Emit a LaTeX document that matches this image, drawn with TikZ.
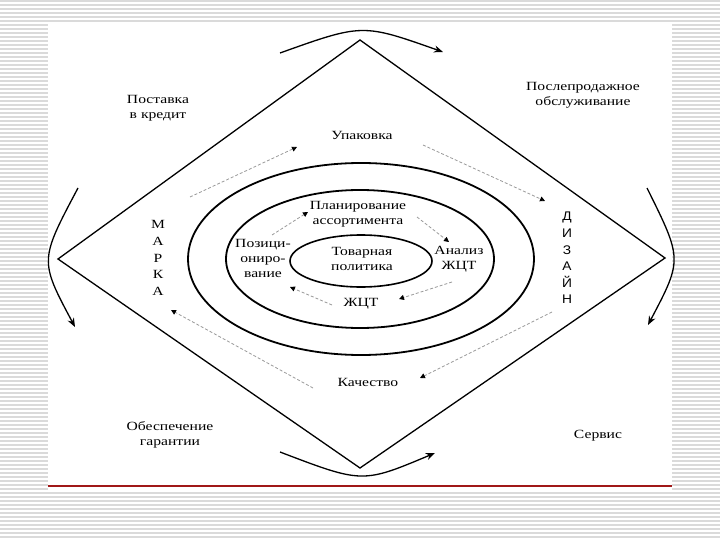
\documentclass[tikz,border=0pt]{standalone}
\usepackage{fontspec}
\setmainfont[FakeStretch=1.25]{Liberation Serif}
\newfontfamily\dzfont[FakeStretch=1.1]{Liberation Sans}
\usetikzlibrary{arrows.meta}
\definecolor{dotgray}{HTML}{9A9A9A}
\definecolor{stripe}{HTML}{DADADA}
\definecolor{slidered}{HTML}{A01818}

\begin{document}
\begin{tikzpicture}[x=1pt,y=-1pt,>=Latex,every node/.style={font=\fontsize{12.5}{15}\selectfont,align=center,inner sep=1pt},
 ring/.style={draw,line width=1.8pt},turn/.style={->,line width=1.3pt,>={Stealth[length=9pt,width=7pt]}},
 hint/.style={-{Triangle[length=5pt,width=5pt,color=black]},draw=dotgray,densely dashed,line width=.8pt},
 letters/.style={font=\fontsize{12.5}{16.8}\selectfont}]
\useasboundingbox (0,0) rectangle (720,540);
% slide background
\foreach \y in {1,5,...,539} \draw[stripe,line width=1.5pt] (0,\y)--(720,\y);
\fill[white] (48,22) rectangle (672,492);
\draw[slidered,line width=1.2pt] (48,486)--(672,486);
% diamond
\coordinate (t) at (360,40);\coordinate (l) at (58,259);\coordinate (r) at (665,258);\coordinate (b) at (360,468);
\draw[line width=1.3pt] (t)--(r)--(b)--(l)--cycle;
% turning arcs
\coordinate (t1) at (280,53);\coordinate (tc) at (362.5,23.5);\coordinate (t2) at (443,52);
\coordinate (l1) at (78,188);\coordinate (lc) at (39.5,260.5);\coordinate (l2) at (75,327);
\coordinate (r1) at (647,188);\coordinate (rc) at (682.5,259.5);\coordinate (r2) at (648,325);
\coordinate (b1) at (280,452);\coordinate (bc) at (362.5,483.5);\coordinate (b2) at (435,453);
\foreach \p in {t,l,r,b} \draw[turn] (\p1) .. controls (\p c) .. (\p2);
% rings
\draw[ring] (361,259) ellipse [x radius=173,y radius=96];
\draw[ring] (360,259) ellipse [x radius=134,y radius=69];
\draw[ring,line width=1.6pt] (361,261) ellipse [x radius=71,y radius=26];
% corner texts
\node (credit) at (158,108) {Поставка\\в кредит};
\node (after) at (583,95) {Послепродажное\\обслуживание};
\node (guar) at (170,435) {Обеспечение\\гарантии};
\node (serv) at (598,436) {Сервис};
% outer ring texts
\node (pack) at (362,135) {Упаковка};
\node (qual) at (368,382) {Качество};
\node[letters] (mark) at (158,258) {М\\А\\Р\\К\\А};
\node[letters,font=\dzfont\fontsize{12.5}{16.6}\selectfont] (dsgn) at (567,258) {Д\\И\\З\\А\\Й\\Н};
% inner texts
\node (plan) at (358,214) {Планирование\\ассортимента};
\node (pos) at (263,258) {Позици-\\ониро-\\вание};
\node (goods) at (362,259) {Товарная\\политика};
\node (anl) at (459,259) {Анализ\\ЖЦТ};
\node (lc) at (361,304) {ЖЦТ};
% outer hints
\coordinate (h1) at (190,197);\coordinate (h2) at (297,147);
\coordinate (h3) at (423,145);\coordinate (h4) at (545,201);
\coordinate (h5) at (552,312);\coordinate (h6) at (420,378);
\coordinate (h7) at (313,388);\coordinate (h8) at (171,310);
\draw[hint] (h1)--(h2);\draw[hint] (h3)--(h4);\draw[hint] (h5)--(h6);\draw[hint] (h7)--(h8);
% inner hints
\coordinate (i1) at (272,235);\coordinate (i2) at (308,212);
\coordinate (i3) at (417,217);\coordinate (i4) at (449,242);
\coordinate (i5) at (452,282);\coordinate (i6) at (399,299);
\coordinate (i7) at (332,305);\coordinate (i8) at (290,287);
\draw[hint] (i1)--(i2);\draw[hint] (i3)--(i4);\draw[hint] (i5)--(i6);\draw[hint] (i7)--(i8);
\end{tikzpicture}
\end{document}
